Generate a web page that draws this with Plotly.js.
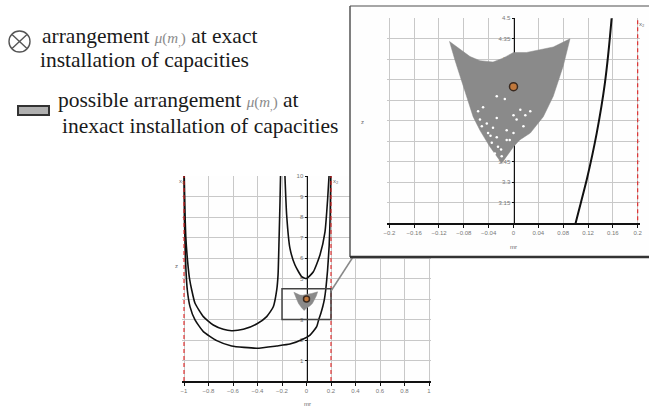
<!DOCTYPE html>
<html><head><meta charset="utf-8">
<script src="https://cdn.plot.ly/plotly-3.0.1.min.js"></script>
<style>html,body{margin:0;padding:0;background:#fff}#chart{width:649px;height:409px}</style>
</head><body><div id="chart"></div>
<script>
// ---- data ----
const curveA_x = [-0.998,-0.993,-0.985,-0.970,-0.955,-0.937,-0.910,-0.842,-0.761,-0.679,-0.611,-0.516,-0.407,-0.325,-0.271,-0.243,-0.232,-0.224,-0.216,-0.212];
const curveA_y = [10,8.5,7,5.8,5.0,4.44,3.79,3.14,2.73,2.52,2.45,2.52,2.78,3.14,3.62,4.44,5.2,6.9,8.8,10];
const curveB_x = [-0.999,-0.997,-0.990,-0.984,-0.973,-0.951,-0.910,-0.842,-0.733,-0.611,-0.407,-0.243,-0.135,-0.026,0.029,0.083,0.100,0.118,0.134,0.147,0.158,0.172,0.185,0.193,0.198];
const curveB_y = [10,8,6.5,5.41,4.44,3.63,2.98,2.41,1.97,1.71,1.60,1.71,1.80,2.05,2.24,2.65,3.0,3.32,3.66,4.02,4.5,5.4,6.6,8,10];
const curveC_x = [-0.176,-0.162,-0.135,-0.094,-0.039,0.0,0.056,0.110,0.151,0.173,0.184];
const curveC_y = [10,8.1,6.47,5.66,5.09,5.0,5.33,6.15,7.28,8.91,10];
const asymptotes = [-1, 0.2];
const asymSpan = [0, 10];
const regionX = [-0.103,-0.086,-0.070,-0.054,-0.033,-0.016,0.0,0.021,0.043,0.064,0.091,0.080,0.064,0.048,0.027,0.010,0.0,-0.008,-0.019,-0.038,-0.054,-0.065,-0.081,-0.094,-0.103];
const regionY = [4.33,4.27,4.22,4.19,4.18,4.21,4.25,4.25,4.27,4.29,4.35,4.15,3.93,3.78,3.66,3.61,3.56,3.51,3.44,3.56,3.68,3.78,4.0,4.19,4.33];
const dotsX = [-0.027,-0.014,-0.049,-0.057,-0.027,0.011,0.019,0.027,0.0,0.005,-0.043,-0.033,-0.011,-0.041,-0.027,-0.011,-0.035,-0.025,-0.030,-0.019,0.016,0.0,-0.006,-0.054,-0.051,-0.020,-0.037];
const dotsY = [3.93,3.91,3.85,3.82,3.77,3.83,3.79,3.82,3.79,3.76,3.73,3.70,3.68,3.66,3.63,3.61,3.59,3.56,3.51,3.49,3.71,3.66,3.61,3.76,3.71,3.54,3.64];
const exactX = [0];
const exactY = [4.0];
const mainXTicks = [-1,-0.8,-0.6,-0.4,-0.2,0,0.2,0.4,0.6,0.8,1];
const mainXText = ['\u22121','\u22120.8','\u22120.6','\u22120.4','\u22120.2','0','0.2','0.4','0.6','0.8','1'];
const mainYTicks = [1,2,3,4,5,6,7,8,9,10];
const insetXTicks = [-0.2,-0.16,-0.12,-0.08,-0.04,0,0.04,0.08,0.12,0.16,0.2];
const insetXText = ['\u22120.2','\u22120.16','\u22120.12','\u22120.08','\u22120.04','0','0.04','0.08','0.12','0.16','0.2'];
const insetYTicks = [3.15,3.3,3.45,3.6,3.75,3.9,4.05,4.2,4.35,4.5];

// ---- layout helpers (pixels -> paper) ----
const W = 649, H = 409;
const px = v => v / W, py = v => 1 - v / H;

function asymLine(xs, span) {
  const x = [], y = [];
  xs.forEach((v, i) => { if (i) { x.push(null); y.push(null); } x.push(v, v); y.push(span[0], span[1]); });
  return {x, y};
}
const asym = asymLine(asymptotes, asymSpan);

const curveStyle = {color:'#111', width:1.6, shape:'spline', smoothing:0.5};
function curves(xa, ya, w) {
  return [[curveA_x,curveA_y],[curveB_x,curveB_y],[curveC_x,curveC_y]].map(c => ({
    type:'scatter', mode:'lines', x:c[0], y:c[1], xaxis:xa, yaxis:ya,
    line:Object.assign({}, curveStyle, {width:w}), hoverinfo:'skip', showlegend:false
  }));
}
function region(xa, ya) {
  return {type:'scatter', mode:'lines', x:regionX, y:regionY, fill:'toself', fillcolor:'#8a8a8a',
    line:{color:'#8a8a8a', width:0.5}, xaxis:xa, yaxis:ya, hoverinfo:'skip', showlegend:false};
}
function asymTrace(xa, ya) {
  return {type:'scatter', mode:'lines', x:asym.x, y:asym.y, xaxis:xa, yaxis:ya,
    line:{color:'#e02020', width:1.1, dash:'4px,3px'}, hoverinfo:'skip', showlegend:false};
}
function exact(xa, ya, s) {
  return {type:'scatter', mode:'markers', x:exactX, y:exactY, xaxis:xa, yaxis:ya,
    marker:{symbol:'circle', size:s, color:'#c0783c', line:{color:'#3a2a20', width:1.5}},
    hoverinfo:'skip', showlegend:false};
}

const traces = [
  region('x','y'), ...curves('x','y',1.6), asymTrace('x','y'), exact('x','y',6),
  {type:'scatter', mode:'markers', x:[0], y:[0], xaxis:'x2', yaxis:'y2', marker:{opacity:0}, hoverinfo:'skip', showlegend:false},
  region('x3','y3'),
  {type:'scatter', mode:'markers', x:dotsX, y:dotsY, xaxis:'x3', yaxis:'y3', marker:{color:'#ffffff', size:2.5}, hoverinfo:'skip', showlegend:false},
  ...curves('x3','y3',2), asymTrace('x3','y3'), exact('x3','y3',8)
];

const tickFont = {family:'Liberation Sans', size:6, color:'#777'};
const gridC = '#c8c8c8';

// main plot: x=-1 at 184px, x=0 at 306.5px, 122.5 px/unit; y 0..10 from 381 to 176
const mx0 = 306.5, mk = 122.5, mr = 1.02;
// inset: x=0 at 513.5px, 621 px/unit; y 3..4.5 from 223.3 to 18.3
const ix0 = 513.5, ik = 621, ir = 0.203;

const noAxis = {showgrid:false, zeroline:false, showline:false, showticklabels:false, ticks:'', range:[0,1], fixedrange:true};

const layout = {
  width:W, height:H, margin:{l:0,r:0,t:0,b:0},
  paper_bgcolor:'#ffffff', plot_bgcolor:'#fefefe', showlegend:false,
  xaxis:{domain:[px(mx0-mr*mk), px(mx0+mr*mk)], range:[-mr,mr], anchor:'y',
    tickmode:'array', tickvals:mainXTicks, ticktext:mainXText, tickfont:tickFont,
    showgrid:true, gridcolor:gridC, gridwidth:1, zeroline:false,
    showline:true, linecolor:'#111', linewidth:1.5, ticks:'outside', ticklen:3, tickcolor:'#111', fixedrange:true},
  yaxis:{domain:[py(381), py(176)], range:[0,10], anchor:'free', position:px(mx0),
    tickmode:'array', tickvals:mainYTicks, tickfont:tickFont, layer:'below traces',
    showgrid:true, gridcolor:gridC, gridwidth:1, zeroline:false,
    showline:true, linecolor:'#111', linewidth:1.5, ticks:'outside', ticklen:2, tickcolor:'#111', fixedrange:true},
  xaxis2:Object.assign({domain:[px(350), 1], anchor:'y2'}, noAxis),
  yaxis2:Object.assign({domain:[py(257), py(6)], anchor:'x2'}, noAxis),
  xaxis3:{domain:[px(ix0-ir*ik), px(ix0+ir*ik)], range:[-ir,ir], anchor:'y3',
    tickmode:'array', tickvals:insetXTicks, ticktext:insetXText, tickfont:tickFont,
    showgrid:true, gridcolor:gridC, gridwidth:1, zeroline:false,
    showline:true, linecolor:'#111', linewidth:1.5, ticks:'outside', ticklen:3, tickcolor:'#111', fixedrange:true},
  yaxis3:{domain:[py(223.3), py(18.3)], range:[3,4.5], anchor:'free', position:px(ix0),
    tickmode:'array', tickvals:insetYTicks, tickfont:tickFont, layer:'below traces',
    showgrid:true, gridcolor:gridC, gridwidth:1, zeroline:false,
    showline:true, linecolor:'#111', linewidth:1.5, ticks:'outside', ticklen:2, tickcolor:'#111', fixedrange:true},
  shapes:[
    // zoom box on main plot
    {type:'rect', xref:'x', yref:'y', x0:-0.2, x1:0.2, y0:3, y1:4.5, line:{color:'#444', width:1.5}, layer:'above'},
    // connector
    {type:'line', xref:'paper', yref:'paper', x0:px(331), y0:py(291), x1:px(353), y1:py(257), line:{color:'#888', width:1.5}, layer:'above'},
    // inset frame
    {type:'line', xref:'paper', yref:'paper', x0:px(350), y0:py(6), x1:1, y1:py(6), line:{color:'#888', width:1.5}, layer:'above'},
    {type:'line', xref:'paper', yref:'paper', x0:px(350), y0:py(6), x1:px(350), y1:py(257), line:{color:'#555', width:1.5}, layer:'above'},
    {type:'line', xref:'paper', yref:'paper', x0:px(350), y0:py(257), x1:1, y1:py(257), line:{color:'#333', width:2.5}, layer:'above'},
    // legend symbols
    {type:'circle', xref:'paper', yref:'paper', x0:px(9), x1:px(30), y0:py(31), y1:py(52), line:{color:'#555', width:1.4}, layer:'above'},
    {type:'line', xref:'paper', yref:'paper', x0:px(12), y0:py(34.5), x1:px(27), y1:py(48.5), line:{color:'#555', width:1.4}, layer:'above'},
    {type:'line', xref:'paper', yref:'paper', x0:px(27), y0:py(34.5), x1:px(12), y1:py(48.5), line:{color:'#555', width:1.4}, layer:'above'},
    {type:'rect', xref:'paper', yref:'paper', x0:px(18), x1:px(49), y0:py(106), y1:py(115), fillcolor:'#b0b0b0', line:{color:'#333', width:2}, layer:'above'}
  ],
  annotations:[]
};

const serif = {family:'Liberation Serif', size:21.5, color:'#1a1a1a'};
const mu = "<span style='font-size:15px;color:#8a8a8a'><i>\u03bc</i>(<i>m</i><sub>,</sub>)</span>";
function ann(text, x, y, font, anchor) {
  layout.annotations.push({text, xref:'paper', yref:'paper', x:px(x), y:py(y), xanchor:anchor||'left', yanchor:'middle', showarrow:false, font, borderpad:0});
}
ann('arrangement ' + mu + ' at exact', 41, 36, serif);
ann('installation of capacities', 39, 60, serif);
ann('possible arrangement ' + mu + ' at', 57, 100, serif);
ann('inexact installation of capacities', 61, 126, serif);
const tiny = {family:'Liberation Sans', size:6, color:'#666'};
ann('mr', 307, 404, tiny, 'center');
ann('mr', 513, 247, tiny, 'center');
ann('z', 176, 266, tiny, 'center');
ann('z', 363, 122, tiny, 'center');
ann('x\u2081', 181, 181, tiny, 'center');
ann('x\u2082', 336, 181, tiny, 'center');
ann('x\u2082', 642, 24, tiny, 'center');

Plotly.newPlot('chart', traces, layout, {staticPlot:true, displayModeBar:false});
</script>
</body></html>
